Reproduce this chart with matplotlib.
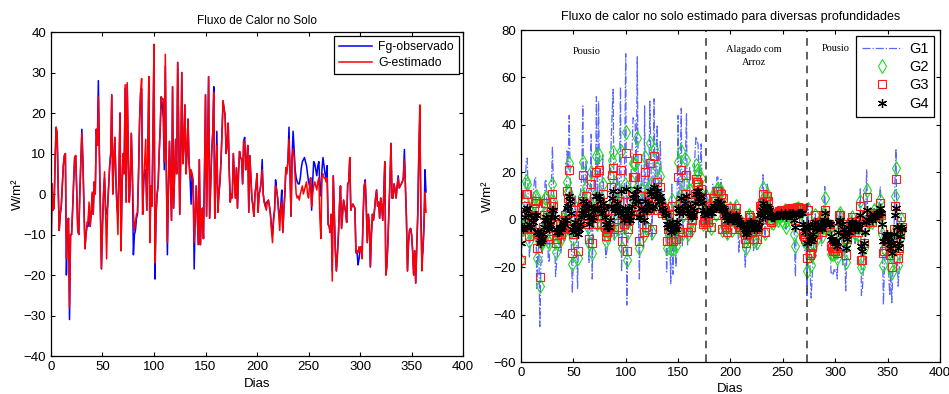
import numpy as np
import matplotlib
matplotlib.use("Agg")
import matplotlib.pyplot as plt

plt.rcParams["font.family"] = ["Liberation Sans", "DejaVu Sans"]

# G-estimado (left, red) == G2 (right, green diamonds), one value per day from day 0
g_est = [
    -17, 2.5, -4, -3.5, 8, 16.5, 15, 2, -9, -5,
    -3, 2, 7, 9.5, 10, -16, -8, -6, -28, -10,
    -10, -4, 3, 9, 9.5, 1, -9, -10, 0, 8,
    15, 8, -3, -13.5, -10, -7, -7, -2, -8, -5,
    0.5, -5, 3, 0, 16, 12, 24, 10, -5, -18.5,
    -8, 0, 5.5, -4, -16, -3, 2, 7, 10, 24.5,
    0, 8, 14, 4, -3, -10, 5, 20, -14, 2,
    10, 5, 27, -2, 27.5, 10, -2, 3, 15, 5,
    -4.5, -9, -7, -5, -4.5, 5, 18, 25, 28.5, -5,
    3, 8, 13.5, -4, 10, 29, -12, 2, -3, 15,
    37, -17, -5, 0, 2, 10, 16, 24, 23.5, 23.5,
    8, 34.5, 5, -12, 2, 13, 3, -6.5, 26.5, -3.5,
    5, 13.5, 5, 32.5, 15, -5, 10, 30, 7.5, 12,
    22, 5, 10, 18.5, 8, 4, 6, 5, 3, -12,
    -5, 2, -5, -12.5, 8.5, -12.5, -5.5, -3.5, -11, 5,
    24.5, -5.5, 10, 29, -6, 2, 10.5, 15, 25, -6,
    5, 12, -4.5, 0, 3, 8, 15, 23, 21, 19.5,
    10, 12, 17.5, 6, -2, 0, -1, 10, 4, -1,
    6.5, -3.5, 5, 10.5, 9, 8.5, 2.5, 13, 13, 6,
    8, 12, -4.5, 9.5, 4, -1, -3, -5.5, 0, 2,
    5, -4.5, 0, 1, 3, 6, 0, -2, -3, -4,
    -2, -1.5, -3, -5, -9, -12, -7, -4, 2, 1,
    -1, -5, -9, -4, -2, -9.5, -4, 0, 6.5, 5,
    8, 13.5, 6, -5.5, 9, 11, 9, 4, 0, -1,
    -0.5, -1.5, 0, 1, 2, 0, 1, 2, 3, 0,
    -1, 2, 4, -3, 0, 2, 3, 2, 1, 3,
    4, -6, -11, 4.5, 5, 4, 4, 3, 4, -7.5,
    -8, -9.5, -5, -21.5, 4.5, -5, -14, -19, -15, -10,
    -3, 2, -8.5, -5, -1.5, -3, -4.5, -7, 2.5, 3,
    9, -4, -3, -2.5, -3, -3.5, -14.5, -14, -14.5, -13,
    -14, -13, -16, -5, 2, 3, -3, -12, -5, -7.5,
    -18, -10, -5, -6.5, -4, -1, 1, -3, -2, -6,
    -1, -3, -6.5, 0, 8, -20, -18, -12, -4, 3,
    12.5, -1, -1, 2.5, 1, -1, 2, 4, 1.5, 2,
    2.5, 3, 4, 8.5, 2, -6, -19, -12, -9, -8.5,
    -10, -14, -20, -14, -22, -13, -5, 10, 22, -5,
    -19, -14, -8, 0.5, -4.5,
]

# Fg-observado (left, blue)
fg_obs = [
    -18, 2.5, -4, -3.5, 8, 16.5, 15, 2, -9, -5,
    -3, 2, 7, 9.5, 10, -20, -8, -6, -31, -10,
    -10, -4, 3, 9, 9.5, 1, -9, -10, 0, 8,
    16, 8, -3, -13.5, -10, -8, -8, -3, -8, -5,
    0, -5, 3, 0, 16, 12, 28, 10, -5, -18.5,
    -8, 0, 4, -4, -5, -3, 2, 7, 10, 24.5,
    0, 8, 14, 4, -3, -5, 5, 20, -14, 2,
    10, 5, 26, -2, 27, 10, -2, 3, 15, 5,
    -15, -10, -9, -6, -5, 5, 18, 25, 26, -5,
    3, 6, 6, -4, 10, 29, -11, 2, -3, 15,
    36, -21, -5, 0, 2, 10, 16, 24, 22, 19,
    6, 31.5, 5, -15, 2, 13, 3, -6.5, 26.5, -3.5,
    5, 13.5, 5, 32.5, 15, -5, 10, 30, 7.5, 12,
    22, 5, 10, 18.5, 8, 4, -2.5, 5, 3, -18.5,
    -5, 2, -5, -12.5, 8.5, -12.5, -5.5, -3.5, -11, 5,
    24.5, -5.5, 10, 29, -6, 2, 10.5, 15, 26.5, -6,
    5, 15.5, -4.5, 0, 3, 8, 15, 23, 21, 19.5,
    10, 12, 17.5, 6, -2, 0, 0, 10, 4, -1,
    6.5, -3.5, 5, 10.5, 9, 8.5, 2.5, 13, 14, 6,
    8, 12, -4.5, 9.5, 4, -1, -3, -5.5, 0, 2,
    5, -4.5, 0, 1, 3, 8.5, 0, -2, -3, -2,
    -2, -1.5, -3, -5, -8, -10, -6, -4, 3.5, 1,
    -1, -4, -6, -3, 1, -9.5, -4, 0, 6.5, 6,
    8, 16.5, 6, -5.5, 9, 15.5, 11, 6, 4, 3,
    2.5, 2.5, 4, 6.5, 8, 8.5, 9, 8, 7, 5,
    3, 2, 4, -4, 3, 8, 7.5, 6, 4.5, 7,
    8, 2, -0.5, 6, 9, 7, 5, 4, 7, -7.5,
    -8, -9.5, -5, -19, 4.5, -5, -14, -19, -15, -10,
    -3, 2, -8.5, -5, -1.5, -3, -4.5, -7, 2.5, 3,
    9, -4, -3, -2.5, -3, -3.5, -14.5, -14, -17.5, -16,
    -14, -13, -14.5, -5, 2, 3.5, -3, -12, -5, -7.5,
    -18, -10, -5, -6.5, -4, -1, 1, -3, -2, -6,
    -1, -3, -6.5, 0, 8, -20, -17.5, -12, -4, 3,
    12.5, -1, -1, 2.5, 1, -1, 2, 4.5, 1.5, 2,
    2.5, 3, 4, 11, 2, -6, -19, -12, -9, -8.5,
    -10, -14, -20, -14, -22, -13, -5, 10, 19.5, -5,
    -16, -14, -8, 6, 0.5,
]

g1 = [
    -25, 4, -7, -6, 14, 25, 26, 4, -16, -9,
    -5, 4, 13, 17, 18, -29, -14, -11, -45, -18,
    -18, -7, 5, 16, 17, 2, -16, -18, 0, 14,
    31, 14, -5, -24, -18, -13, -13, -4, -14, -9,
    1, -9, 5, 0, 29, 22, 44, 18, -9, -31,
    -14, 0, 10, -7, -29, -5, 4, 13, 18, 48,
    0, 14, 25, 7, -5, -18, 9, 36, -25, 4,
    18, 9, 52, -4, 50, 18, -4, 5, 27, 9,
    -8, -16, -13, -9, -8, 9, 32, 45, 55, -9,
    5, 14, 24, -7, 18, 56, -22, 4, -5, 27,
    70, -36, -9, 0, 4, 18, 29, 43, 42, 42,
    14, 69, 9, -25, 4, 23, 5, -12, 48, -6,
    9, 24, 9, 50, 27, -9, 18, 51, 14, 22,
    40, 9, 18, 33, 14, 7, 11, 9, 5, -22,
    -9, 4, -9, -27, 15, -23, -10, -6, -20, 9,
    44, -10, 18, 47, -11, 4, 19, 27, 45, -11,
    9, 22, -8, 0, 5, 14, 27, 35, 33, 32,
    18, 22, 32, 11, -4, 0, -1, 14, 6, -1,
    9, -5, 7, 15, 13, 12, 4, 18, 18, 8,
    11, 17, -6, 13, 6, -1, -4, -8, 0, 3,
    7, -6, 0, 1, 4, 8, 0, -3, -14, -6,
    -3, -2, -4, -7, -20, -13, -10, -6, 3, 1,
    -1, -7, -13, -6, -3, -13, -6, 0, 9, 7,
    11, 19, 8, -8, 13, 15, 13, 6, 0, -1,
    -1, -2, 0, 1, 3, 0, 1, 3, 4, 0,
    -1, 3, 6, -4, 0, 3, 4, 3, 1, 4,
    6, -8, -24, 6, 7, 6, 6, 4, 6, -11,
    -11, -13, -7, -32, 7, -8, -22, -33, -24, -16,
    -5, 3, -14, -8, -2, -5, -7, -11, 4, 5,
    14, -6, -5, -4, -5, -6, -23, -22, -23, -21,
    -22, -21, -25, -8, 3, 5, -5, -19, -8, -12,
    -30, -16, -8, -10, -6, -2, 2, -5, -3, -10,
    -2, -5, -10, 0, 13, -32, -29, -19, -6, 5,
    21, -2, -2, 4, 2, -2, 3, 6, 2, 3,
    4, 5, 6, 14, 3, -10, -36, -19, -14, -14,
    -16, -22, -32, -22, -35, -21, -8, 16, 30, -8,
    -28, -22, -13, 1, -7,
]

g3 = [
    -17, 2, -3, -3, 6, 11, 11, 2, -7, -4,
    -2, 2, 5, 7, 8, -12, -6, -5, -24, -8,
    -8, -3, 2, 7, 7, 1, -7, -8, 0, 6,
    11, 6, -2, -10, -8, -5, -5, -2, -6, -4,
    0, -4, 2, 0, 12, 9, 21, 8, -4, -14,
    -6, 0, 4, -3, -13, -2, 2, 5, 8, 19,
    0, 6, 10, 3, -2, -8, 4, 15, -10, 2,
    8, 4, 20, -2, 21, 8, -2, 2, 11, 4,
    -3, -7, -5, -4, -3, 4, 14, 19, 22, -4,
    2, 6, 10, -3, 8, 21, -9, 2, -2, 11,
    28, -13, -4, 0, 2, 8, 12, 18, 18, 18,
    6, 26, 4, -9, 2, 10, 2, -5, 20, -3,
    4, 10, 4, 24, 11, -4, 8, 27, 6, 9,
    16, 4, 8, 14, 6, 3, 5, 4, 2, -9,
    -4, 2, -4, -9, 6, -9, -4, -3, -8, 4,
    18, -4, 8, 21, -5, 2, 8, 11, 19, -5,
    4, 9, -3, 0, 2, 6, 11, 17, 16, 15,
    8, 9, 13, 5, -2, 0, -1, 9, 4, -1,
    6, -3, 5, 9, 8, 8, 2, 12, 12, 5,
    7, 11, -4, 9, 4, -1, -3, -5, 0, 2,
    5, -4, 0, 1, 3, 5, 0, -2, -3, -4,
    -2, -1, -3, -5, -8, -10, -6, -4, 2, 1,
    -1, -5, -8, -4, -2, -8, -4, 0, 6, 5,
    7, 11, 5, -5, 8, 10, 8, 4, 0, -1,
    2, 2, 2.5, 3, 3, 3, 3.5, 3.5, 4, 3.5,
    3.5, 4, 4, 3, 4, 4.5, 4.5, 5, 4.5, 5,
    5, 4, 0, 5, 5.5, 5, 5, 4.5, 5, -6,
    -7, -8, -5, -16, 4, -4, -15, -14, -11, -8,
    -2, 2, -6, -4, -1, -2, -3, -5, 2, 2,
    4, -3, -2, -2, -2, -3, -11, -12, -13, -12,
    -13, -12, -14, -4, 2, 2, -2, -9, -4, -6,
    -15, -8, -4, -5, -3, -1, 1, -2, -2, -4,
    -1, -2, -5, 0, 6, -17, -17, -10, -3, 2,
    9.5, -1, -1, 2, 1, -1, 2, 3, 1, 2,
    2, 2, 3, 7, 2, -4, -14, -13, -9, -8,
    -8, -11, -15, -11, -20, -10, -4, 6, 17, -4,
    -16, -12, -6, 1, -3,
]

g4 = [
    -10, -3, -4, -3, 1, 4, 5, 2, -2, -3,
    -3, -1, 1, 2, 2, -5, -5, -6, -10, -9,
    -8, -6, -3, 0, 1, 0, -3, -4, -2, 1,
    4, 4, 1, -4, -5, -5, -5, -3, -4, -3,
    -1, -2, 0, 0, 5, 6, 10, 8, 3, -4,
    -5, -3, -1, -3, -6, -4, -2, 1, 3, 8,
    4, 5, 7, 5, 2, -2, 1, 6, 0, 1,
    5, 4, 10, 5, 10, 8, 4, 3, 7, 5,
    1, -2, -3, -3, -3, 0, 6, 9, 12, 5,
    4, 5, 7, 3, 5, 12, 4, 2, 0, 5,
    13, 4, 1, 0, 0, 3, 6, 9, 11, 11,
    8, 13, 8, 1, 1, 5, 4, 0, 8, 4,
    4, 7, 6, 12, 11, 5, 6, 14, 10, 10,
    12, 9, 8, 10, 8, 5, 4, 3, 2, -2,
    -3, -2, -3, -5, -1, -4, -4, -3, -4, -1,
    5, 3, 4, 9, 4, 3, 5, 7, 10, 4,
    3, 6, 2, 1, 2, 4, 7, 11, 12, 12,
    9, 8, 10, 7, 4, 3, 2, 4, 4, 3,
    4, 3, 3, 5, 6, 6, 5, 7, 8, 6,
    6, 7, 4, 5, 4, 2, 1, 0, 0, 1,
    2, 0, 0, 0, 1, 2, 1, 0, -1, -2,
    -2, -2, -2, -3, -4, -6, -5, -4, -2, -1,
    -1, -2, -4, -3, -2, -4, -3, -1, 2, 3,
    4, 7, 5, 1, 4, 6, 5, 4, 2, 1,
    1, 1, 1, 2, 2, 2, 2, 2, 3, 2,
    2, 2, 3, 1, 2, 2, 3, 3, 2, 3,
    3, 0, -3, 2, 3, 3, 3, 3, 3, -2,
    -3, -5, -3, -10, -2, -3, -7, -9, -8, -6,
    -3, -1, -4, -3, -2, -2, -3, -4, -1, 0,
    3, -1, -1, -1, -2, -2, -7, -8, -9, -9,
    -10, -9, -11, -5, -1, 0, -2, -7, -4, -5,
    -12, -8, -5, -5, -4, -2, -1, -2, -2, -4,
    -2, -3, -4, -2, 2, -11, -13, -10, -5, -1,
    4, 0, 0, 1, 1, 0, 1, 2, 1, 2,
    2, 2, 3, 5, 3, -2, -9, -9, -7, -6,
    -7, -9, -12, -10, -14, -10, -6, 2, 5, -3,
    -12, -10, -7, -3, -4,
]

# season boundaries (days) and labels
limites = [177, 273]
rotulos = [("Pousio", 63, 71), ("Alagado com\nArroz", 222, 69), ("Pousio", 300, 72)]

ASTERISCO = (6, 2, 0)  # matlab-like '*'


def matlab_axes(ax):
    ax.tick_params(direction="in", top=True, right=True, labelsize=9.5, length=3)
    for s in ax.spines.values():
        s.set_linewidth(0.9)


fig = plt.figure(figsize=(9.49, 3.94), dpi=100)
ax1 = fig.add_axes([0.0537, 0.0964, 0.4343, 0.8223])
ax2 = fig.add_axes([0.549, 0.0812, 0.4415, 0.8426])

# left panel
ax1.plot(np.arange(len(fg_obs)), fg_obs, color="#0000ff", lw=1.1, label="Fg-observado")
ax1.plot(np.arange(len(g_est)), g_est, color="#ff0000", lw=1.1, label="G-estimado")
ax1.set_xlim(0, 400)
ax1.set_ylim(-40, 40)
ax1.set_xticks(np.arange(0, 401, 50))
ax1.set_yticks(np.arange(-40, 41, 10))
ax1.set_xlabel("Dias", fontsize=9.5, labelpad=4)
ax1.set_ylabel("W/m²", fontsize=9.5, labelpad=0)
ax1.set_title("Fluxo de Calor no Solo", fontsize=8.5, pad=6)
matlab_axes(ax1)
leg1 = ax1.legend(loc="upper right", fontsize=8.8, fancybox=False, framealpha=1,
                  edgecolor="black", borderaxespad=0.35, handlelength=2.7,
                  handletextpad=0.5, labelspacing=0.35)
leg1.get_frame().set_linewidth(0.9)

# right panel
ax2.plot(np.arange(len(g1)), g1, linestyle="-.", color="#3a4cff", lw=0.9, alpha=0.85, label="G1")
ax2.plot(np.arange(len(g_est)), g_est, linestyle="none", marker="d", ms=7.5, mfc="none",
         mec="#22dd22", mew=0.8, label="G2")
ax2.plot(np.arange(len(g3)), g3, linestyle="none", marker="s", ms=6, mfc="none",
         mec="#ff1a1a", mew=0.8, label="G3")
ax2.plot(np.arange(len(g4)), g4, linestyle="none", marker=ASTERISCO, ms=6.5, color="black",
         mew=0.9, label="G4")
for x in limites:
    ax2.axvline(x, color="#333333", linestyle=(0, (5, 4)), lw=1.1)
for txt, x, y in rotulos:
    ax2.text(x, y, txt, ha="center", va="center", fontsize=7.5,
             family=["Liberation Serif", "DejaVu Serif"], linespacing=1.5)
ax2.set_xlim(0, 400)
ax2.set_ylim(-60, 80)
ax2.set_xticks(np.arange(0, 401, 50))
ax2.set_yticks(np.arange(-60, 81, 20))
ax2.set_xlabel("Dias", fontsize=9.5, labelpad=3)
ax2.set_ylabel("W/m²", fontsize=9.5, labelpad=0)
ax2.set_title("Fluxo de calor no solo estimado para diversas profundidades", fontsize=9, pad=7)
matlab_axes(ax2)
leg2 = ax2.legend(loc="upper right", fontsize=10.5, fancybox=False, framealpha=1,
                  edgecolor="black", borderaxespad=0.4, handlelength=2.7,
                  handletextpad=0.5, labelspacing=0.3)
leg2.get_frame().set_linewidth(0.9)

fig.savefig("out.png", dpi=100)
